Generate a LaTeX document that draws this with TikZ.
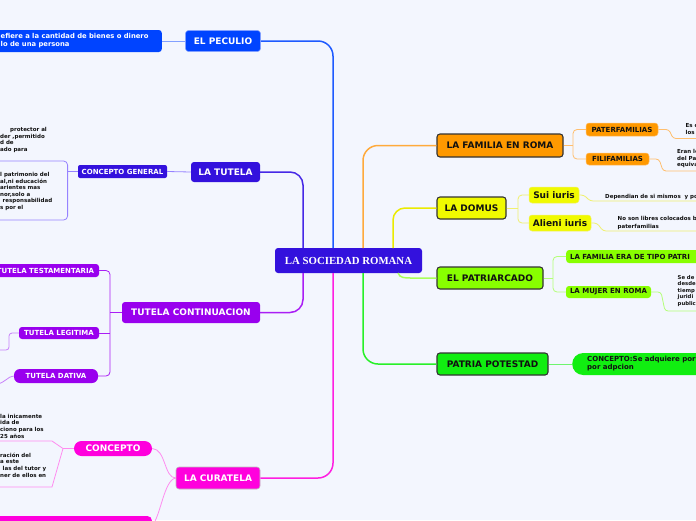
\documentclass[tikz,border=0pt]{standalone}
\usepackage{fontspec}
\newfontfamily\vfont{DejaVu Sans}
\newfontfamily\tfont{Liberation Serif}
\usetikzlibrary{calc}
\definecolor{bgc}{RGB}{243,246,254}
\definecolor{cind}{RGB}{51,17,221}
\definecolor{cblue}{RGB}{0,68,255}
\definecolor{cpur}{RGB}{153,0,238}
\definecolor{cmag}{RGB}{255,0,221}
\definecolor{corg}{RGB}{255,153,0}
\definecolor{cyel}{RGB}{240,250,0}
\definecolor{cchar}{RGB}{136,255,0}
\definecolor{cgrn}{RGB}{17,238,17}
\definecolor{bord}{RGB}{51,51,51}
\definecolor{txt}{RGB}{17,17,17}
\definecolor{lblue}{RGB}{130,160,255}
\definecolor{lind}{RGB}{150,130,255}
\definecolor{lpur}{RGB}{200,130,250}
\definecolor{lmag}{RGB}{255,140,240}
\definecolor{lorg}{RGB}{255,190,110}
\definecolor{lyel}{RGB}{240,240,110}
\definecolor{lchar}{RGB}{180,255,120}
\definecolor{lgrn}{RGB}{110,245,110}
\definecolor{tblue}{RGB}{30,90,255}
\definecolor{tind}{RGB}{70,40,230}
\definecolor{tpur}{RGB}{170,30,245}
\definecolor{tmag}{RGB}{255,30,225}
\definecolor{torg}{RGB}{255,170,60}
\definecolor{tyel}{RGB}{235,235,0}
\definecolor{tchar}{RGB}{170,255,90}
\definecolor{tgrn}{RGB}{40,240,40}
\tikzset{
  box/.style={rounded corners=3pt, inner sep=0pt, align=center},
  big/.style={box, font=\vfont\bfseries\fontsize{9}{10}\selectfont},
  small/.style={box, font=\vfont\bfseries\fontsize{7}{8}\selectfont},
  body/.style={inner sep=0pt, align=left, text=txt, font=\vfont\bfseries\fontsize{5.5}{6.6}\selectfont},
  rbox/.style={draw=bord, line width=1.1pt, text=txt},
  link/.style={line width=0.8pt},
  trunk/.style={line width=1.5pt},
}
\begin{document}
\begin{tikzpicture}[x=1pt,y=-1pt]
\fill[bgc] (0,0) rectangle (696,520);
\useasboundingbox (0,0) rectangle (696,520);

% ---------- centre ----------
\node[box, fill=cind, text=white, font=\tfont\bfseries\fontsize{10.8}{12}\selectfont,
      minimum width=147pt, minimum height=25pt] (soc) at (348.5,260.5) {LA SOCIEDAD ROMANA};
\coordinate (t1) at (303,248);
\coordinate (t2) at (333,248);
\coordinate (t3) at (363,248);
\coordinate (t4) at (393,248);
\coordinate (b1) at (303,273);
\coordinate (b2) at (333,273);
\coordinate (b3) at (363,273);
\coordinate (b4) at (398,273);

% ---------- left: EL PECULIO ----------
\node[big, fill=cblue, draw=lblue, line width=0.6pt, text=white, minimum width=75pt, minimum height=21pt] (pec) at (223,41) {EL PECULIO};
\node[box, fill=cblue, minimum width=180pt, minimum height=22pt, anchor=east] (pecbox) at (162,41) {};
\node[body, text=white, font=\vfont\bfseries\fontsize{6.8}{8}\selectfont, anchor=west] (pectext) at (0.5,41) {efiere a la cantidad de bienes o dinero\\lo de una persona};
\draw[trunk, tblue, rounded corners=15pt] (t2) |- (pec.east);
\draw[link, lblue] (pecbox.east) -- (pec.west);

% ---------- left: LA TUTELA ----------
\node[big, fill=cind, text=white, minimum width=69pt, minimum height=20pt] (tut) at (225.5,172) {LA TUTELA};
\node[small, fill=cind, text=white, rounded corners=2pt, minimum width=89pt, minimum height=13pt] (cg) at (122.5,171.5) {CONCEPTO GENERAL};
\node[body, anchor=west, font=\vfont\bfseries\fontsize{5.5}{6.5}\selectfont] (tu1) at (0,139.8) {\hspace*{10pt}protector al\\der ,permitido\\d de\\ado para};
\node[draw=lind, line width=0.8pt, rounded corners=4pt, minimum width=80pt, minimum height=59pt, anchor=east] (tgbox) at (68,190.5) {};
\node[body, anchor=west, font=\vfont\bfseries\fontsize{5.5}{6.6}\selectfont] (tgtext) at (0,191.5) {l patrimonio del\\al,ni educación\\arientes mas\\nor,solo a\\\hspace*{2.5pt}responsabilidad\\s por el};
\draw[trunk, tind, rounded corners=13pt] (t1) |- (tut.east);
\draw[link, lind] (cg.east) -- (tut.west);
\draw[link, lind] (tgbox.east |- cg.west) -- (cg.west);

% ---------- left: TUTELA CONTINUACION ----------
\node[big, fill=cpur, text=white, minimum width=138pt, minimum height=21pt] (tc) at (191,312.5) {TUTELA CONTINUACION};
\node[small, fill=cpur, text=white, minimum width=107pt, minimum height=13pt] (ttest) at (45.5,270.5) {TUTELA TESTAMENTARIA};
\node[small, fill=cpur, text=white, minimum width=80pt, minimum height=12pt] (tleg) at (59,333) {TUTELA LEGITIMA};
\node[small, fill=cpur, text=white, rounded corners=6pt, minimum width=84pt, minimum height=14pt] (tdat) at (56,376) {TUTELA DATIVA};
\coordinate (tb) at (110,312.5);
\coordinate (tlegc) at (-3,350);
\coordinate (tdatc) at (-3,384);
\draw[trunk, tpur, rounded corners=13pt] (b1) |- (tc.east);
\draw[link, tpur] (tc.west) -- (tb);
\draw[link, tpur, rounded corners=4pt] (ttest.east) -| (tb) |- (tdat.east);
\draw[link, tpur] (tleg.east) -- (tleg.east -| tb);
\draw[link, lpur, rounded corners=3pt] (tleg.west) -- (9,333) -- (9,350) -- (tlegc);
\draw[link, lpur] (tdat.west) .. controls (8,376) and (5,383) .. (tdatc);

% ---------- left: LA CURATELA ----------
\node[big, fill=cmag, draw=black!25, line width=0.6pt, text=white, minimum width=84pt, minimum height=22pt] (cur) at (218,478) {LA CURATELA};
\node[big, fill=cmag, text=white, rounded corners=7.5pt, minimum width=78pt, minimum height=15pt] (cc) at (113,448.5) {CONCEPTO};
\node[box, fill=cmag, rounded corners=4pt, minimum width=170pt, minimum height=20pt, anchor=north east] (botbox) at (152,516) {};
\node[body, anchor=west, font=\vfont\bfseries\fontsize{5.5}{6.7}\selectfont] (cur1) at (0,426) {la inicamente\\ida de\\ciono para los\\25 años};
\node[body, anchor=west, font=\vfont\bfseries\fontsize{5.5}{6.7}\selectfont] (cur2) at (0,465) {ración del\\a este\\\hspace*{2.5pt}las del tutor y\\ner de ellos en};
\coordinate (cb) at (63,448.5);
\coordinate (cu1) at (-3,441);
\coordinate (cu2) at (-3,487);
\draw[trunk, tmag, rounded corners=15pt] (b2) |- (cur.east);
\draw[link, lmag] (cur.west) .. controls (164,478) and (166,449) .. (cc.east);
\draw[link, lmag] (cur.west) .. controls (164,480) and (161,515) .. (botbox.east);
\draw[link, lmag] (cc.west) -- (cb) -- (52,441) -- (cu1);
\draw[link, lmag] (cb) -- (52,487) -- (cu2);

% ---------- right: LA FAMILIA EN ROMA ----------
\node[big, rbox, fill=corg, minimum width=126pt, minimum height=23pt] (fam) at (500,145.5) {LA FAMILIA EN ROMA};
\node[small, fill=corg, text=txt, draw=lorg, line width=0.5pt, minimum width=72pt, minimum height=13pt] (pat) at (622,129.5) {PATERFAMILIAS};
\node[small, fill=corg, text=txt, draw=lorg, line width=0.5pt, minimum width=63pt, minimum height=12pt] (fil) at (617.5,159) {FILIFAMILIAS};
\node[body, anchor=west, font=\vfont\bfseries\fontsize{5.5}{7}\selectfont] (pattext) at (685.5,129.5) {Es c\\los};
\node[body, anchor=west, font=\vfont\bfseries\fontsize{5.5}{6.6}\selectfont] (filtext) at (677,158.5) {Eran le\\del Pa\\equiva};
\coordinate (fb) at (573,145.5);
\coordinate (patc) at (700,138.5);
\coordinate (filc) at (700,171);
\draw[trunk, torg, rounded corners=15pt] (t3) |- (fam.west);
\draw[link, lorg] (fam.east) -- (fb);
\draw[link, lorg, rounded corners=4pt] (pat.west) -| (fb) |- (fil.west);
\draw[link, lorg, rounded corners=3pt] (pat.east) -- (669,129.5) -- (673,138.5) -- (patc);
\draw[link, lorg, rounded corners=3pt] (fil.east) -- (659,159) -- (663,171) -- (filc);

% ---------- right: LA DOMUS ----------
\node[big, rbox, fill=cyel, minimum width=69pt, minimum height=22pt] (dom) at (471.5,208) {LA DOMUS};
\node[big, fill=cyel, text=txt, draw=lyel, line width=0.5pt, minimum width=50pt, minimum height=16pt] (sui) at (554,195) {Sui iuris};
\node[big, fill=cyel, text=txt, draw=lyel, line width=0.5pt, minimum width=62pt, minimum height=16pt] (ali) at (560,223) {Alieni iuris};
\node[body, anchor=base west] (suitext) at (605,198) {Dependian de si mismos~ y po};
\node[body, anchor=west, font=\vfont\bfseries\fontsize{5.5}{7.5}\selectfont] (alitext) at (617.5,223) {No son libres colocados b\\paterfamilias};
\coordinate (db) at (518,208);
\coordinate (suic) at (700,201);
\coordinate (alic) at (700,231);
\draw[trunk, tyel, rounded corners=12pt] (t4) |- (dom.west);
\draw[link, lyel] (dom.east) -- (db);
\draw[link, lyel, rounded corners=4pt] (sui.west) -| (db) |- (ali.west);
\draw[link, lyel, rounded corners=3pt] (sui.east) -- (584,195) -- (590,201) -- (suic);
\draw[link, lyel, rounded corners=3pt] (ali.east) -- (597,223) -- (603,231) -- (alic);

% ---------- right: EL PATRIARCADO ----------
\node[big, rbox, fill=cchar, minimum width=106pt, minimum height=22pt] (pa) at (490,278) {EL PATRIARCADO};
\node[small, fill=cchar, text=txt, anchor=west, inner xsep=4pt, text width=150pt, align=left, minimum height=13pt] (ft) at (566,256.5) {LA FAMILIA ERA DE TIPO PATRI};
\node[small, fill=cchar, text=txt, minimum width=85pt, minimum height=12pt] (mu) at (608.5,292) {LA MUJER EN ROMA};
\node[body, anchor=west, font=\vfont\bfseries\fontsize{5.3}{6.5}\selectfont] (mutext) at (677.5,291) {Se de\\desde\\tiemp\\juridi\\public};
\coordinate (pb) at (553,278);
\coordinate (muc) at (700,311);
\draw[trunk, tchar] (b4) .. controls (400,278) and (404,278) .. (412,278) -- (pa.west);
\draw[link, lchar] (pa.east) -- (pb);
\draw[link, lchar, rounded corners=4pt] (ft.west) -| (pb) |- (mu.west);
\draw[link, lchar, rounded corners=3pt] (mu.east) -- (661,292) -- (665,311) -- (muc);

% ---------- right: PATRIA POTESTAD ----------
\node[big, rbox, fill=cgrn, minimum width=111pt, minimum height=22pt] (pp) at (492.5,364) {PATRIA POTESTAD};
\node[box, fill=cgrn, text=txt, rounded corners=11pt, anchor=west, inner xsep=15pt, text width=140pt, align=left, minimum height=22pt,
      font=\vfont\bfseries\fontsize{7}{8}\selectfont] (ppc) at (572,364) {CONCEPTO:Se adquiere por\\por adpcion};
\draw[trunk, tgrn, rounded corners=15pt] (b3) |- (pp.west);
\draw[link, lgrn] (pp.east) -- (ppc.west);
\end{tikzpicture}
\end{document}
